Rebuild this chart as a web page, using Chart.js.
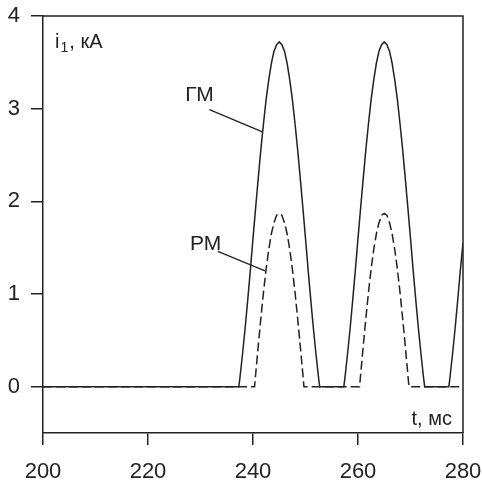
<!DOCTYPE html>
<html>
<head>
<meta charset="utf-8">
<script src="https://cdn.jsdelivr.net/npm/chart.js@4.4.1/dist/chart.umd.min.js"></script>
<style>
  html, body { margin: 0; padding: 0; background: #fff; }
  canvas { display: block; }
</style>
</head>
<body>
<canvas id="chart" width="482" height="481"></canvas>
<script>
// time, ms
const xTicks = [200, 220, 240, 260, 280];
const yTicks = [0, 1, 2, 3, 4];

// ГМ (solid)
const tGM = [
  200, 237.3,
  237.5, 238, 238.5, 239, 239.5, 240, 240.5, 241, 241.5, 242, 242.5, 243, 243.5, 244, 244.5, 245,
  245.5, 246, 246.5, 247, 247.5, 248, 248.5, 249, 249.5, 250, 250.5, 251, 251.5, 252, 252.5,
  252.7, 257.3,
  257.5, 258, 258.5, 259, 259.5, 260, 260.5, 261, 261.5, 262, 262.5, 263, 263.5, 264, 264.5, 265,
  265.5, 266, 266.5, 267, 267.5, 268, 268.5, 269, 269.5, 270, 270.5, 271, 271.5, 272, 272.5,
  272.7, 277.3,
  277.5, 278, 278.5, 279, 279.5, 280
];
const iGM = [
  0, 0,
  0.09, 0.35, 0.63, 0.94, 1.26, 1.60, 1.93, 2.25, 2.56, 2.84, 3.10, 3.31, 3.49, 3.62, 3.69, 3.72,
  3.69, 3.62, 3.49, 3.31, 3.10, 2.84, 2.56, 2.25, 1.93, 1.60, 1.26, 0.94, 0.63, 0.35, 0.09,
  0, 0,
  0.09, 0.35, 0.63, 0.94, 1.26, 1.60, 1.93, 2.25, 2.56, 2.84, 3.10, 3.31, 3.49, 3.62, 3.69, 3.72,
  3.69, 3.62, 3.49, 3.31, 3.10, 2.84, 2.56, 2.25, 1.93, 1.60, 1.26, 0.94, 0.63, 0.35, 0.09,
  0, 0,
  0.09, 0.35, 0.63, 0.94, 1.26, 1.55
];

// РМ (dashed)
const tRM = [
  200, 240.3,
  240.5, 241, 241.5, 242, 242.5, 243, 243.5, 244, 244.5, 245,
  245.5, 246, 246.5, 247, 247.5, 248, 248.5, 249, 249.5,
  249.7, 260.3,
  260.5, 261, 261.5, 262, 262.5, 263, 263.5, 264, 264.5, 265,
  265.5, 266, 266.5, 267, 267.5, 268, 268.5, 269, 269.5,
  269.7, 280
];
const iRM = [
  0, 0,
  0.13, 0.44, 0.74, 1.02, 1.27, 1.48, 1.65, 1.77, 1.85, 1.87,
  1.85, 1.77, 1.65, 1.48, 1.27, 1.02, 0.74, 0.44, 0.13,
  0, 0,
  0.13, 0.44, 0.74, 1.02, 1.27, 1.48, 1.65, 1.77, 1.85, 1.87,
  1.85, 1.77, 1.65, 1.48, 1.27, 1.02, 0.74, 0.44, 0.13,
  0, 0
];

const ink = '#222';
const fontFamily = '"Liberation Sans", Arial, sans-serif';

const toPoints = (xs, ys) => xs.map((x, k) => ({ x: x, y: ys[k] }));

// labels with pointer lines, in data units
const notes = [
  { text: 'ГМ', tx: 227.1, ty: 3.08, from: [231.7, 2.99], to: [241.8, 2.75] },
  { text: 'РМ', tx: 228.0, ty: 1.48, from: [233.3, 1.46], to: [242.3, 1.25] }
];

const decor = {
  id: 'decor',
  afterDraw(chart) {
    const ctx = chart.ctx;
    const a = chart.chartArea;
    const sx = chart.scales.x, sy = chart.scales.y;
    ctx.save();
    // frame top and right
    ctx.strokeStyle = ink;
    ctx.lineWidth = 1.5;
    ctx.beginPath();
    ctx.moveTo(a.left, a.top);
    ctx.lineTo(a.right, a.top);
    ctx.lineTo(a.right, a.bottom);
    ctx.stroke();

    ctx.fillStyle = ink;
    ctx.textBaseline = 'alphabetic';
    // y axis title with subscript
    let x = sx.getPixelForValue(202.3);
    let y = sy.getPixelForValue(3.66);
    ctx.font = '20px ' + fontFamily;
    ctx.textAlign = 'left';
    ctx.fillText('i', x, y);
    x += ctx.measureText('i').width + 1;
    ctx.font = '14px ' + fontFamily;
    ctx.fillText('1', x, y + 4);
    x += ctx.measureText('1').width + 1;
    ctx.font = '20px ' + fontFamily;
    ctx.fillText(', кА', x, y);

    // x axis title
    ctx.textAlign = 'right';
    ctx.fillText('t, мс', sx.getPixelForValue(277.9), sy.getPixelForValue(-0.41));

    // curve labels
    ctx.textAlign = 'left';
    ctx.font = '21px ' + fontFamily;
    ctx.lineWidth = 1.3;
    notes.forEach(n => {
      ctx.fillText(n.text, sx.getPixelForValue(n.tx), sy.getPixelForValue(n.ty));
      ctx.beginPath();
      ctx.moveTo(sx.getPixelForValue(n.from[0]), sy.getPixelForValue(n.from[1]));
      ctx.lineTo(sx.getPixelForValue(n.to[0]), sy.getPixelForValue(n.to[1]));
      ctx.stroke();
    });
    ctx.restore();
  }
};

new Chart(document.getElementById('chart').getContext('2d'), {
  type: 'line',
  data: {
    datasets: [
      {
        label: 'РМ',
        data: toPoints(tRM, iRM),
        borderColor: ink,
        borderWidth: 1.5,
        borderDash: [9, 4],
        pointRadius: 0,
        tension: 0
      },
      {
        label: 'ГМ',
        data: toPoints(tGM, iGM),
        borderColor: ink,
        borderWidth: 1.5,
        pointRadius: 0,
        tension: 0
      }
    ]
  },
  options: {
    responsive: false,
    animation: false,
    devicePixelRatio: 1,
    layout: { padding: { top: 16, right: 19, left: 0, bottom: 0 } },
    plugins: {
      legend: { display: false },
      tooltip: { enabled: false }
    },
    scales: {
      x: {
        type: 'linear',
        min: 200,
        max: 280,
        afterBuildTicks: s => { s.ticks = xTicks.map(v => ({ value: v })); },
        afterFit: s => { s.height = 48; s.paddingLeft = 0; s.paddingRight = 0; },
        ticks: {
          color: ink,
          padding: 14,
          maxRotation: 0,
          font: { family: fontFamily, size: 22 }
        },
        grid: { drawOnChartArea: false, tickLength: 12, color: ink, lineWidth: 1.5 },
        border: { color: ink, width: 1.5 }
      },
      y: {
        type: 'linear',
        min: -0.5,
        max: 4,
        afterBuildTicks: s => { s.ticks = yTicks.map(v => ({ value: v })); },
        afterFit: s => { s.width = 43; s.paddingTop = 0; s.paddingBottom = 0; },
        ticks: {
          color: ink,
          padding: 11,
          font: { family: fontFamily, size: 22 }
        },
        grid: { drawOnChartArea: false, tickLength: 12, color: ink, lineWidth: 1.5 },
        border: { color: ink, width: 1.5 }
      }
    }
  },
  plugins: [decor]
});
</script>
</body>
</html>
